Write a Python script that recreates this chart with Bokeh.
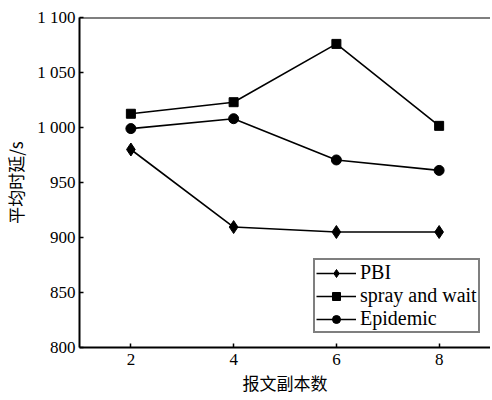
from bokeh.plotting import figure
from bokeh.models import FixedTicker, Legend, LegendItem, Span
from bokeh.embed import file_html
from bokeh.resources import INLINE

copies = [2, 4, 6, 8]
pbi = [980, 909.5, 905, 905]
spray_wait = [1012.5, 1023, 1076, 1001.5]
epidemic = [999, 1008, 970.5, 961]

x_ticks = [2, 4, 6, 8]
y_ticks = [800, 850, 900, 950, 1000, 1050, 1100]
y_tick_labels = ["800", "850", "900", "950", "1 000", "1 050", "1 100"]

SERIF = "Liberation Serif"
CJK = "Noto Sans CJK SC"

p = figure(frame_width=411, frame_height=330, x_range=(1, 9), y_range=(800, 1100),
           output_backend="svg", toolbar_location=None,
           min_border_left=73, min_border_right=0, min_border_top=17, min_border_bottom=45)
p.grid.visible = False
p.background_fill_color = "white"
p.border_fill_color = "white"
p.outline_line_color = None

p.add_layout(Span(location=1100, dimension="width", line_color="black", line_width=2))

for ax in (p.xaxis[0], p.yaxis[0]):
    ax.axis_line_width = 2
    ax.axis_line_color = "black"
    ax.major_tick_in = 4
    ax.major_tick_out = 0
    ax.major_tick_line_width = 1.5
    ax.minor_tick_line_color = None
    ax.major_label_text_font = SERIF
    ax.major_label_text_font_size = "17px"
    ax.major_label_text_color = "black"
    ax.axis_label_text_font = CJK
    ax.axis_label_text_font_size = "17px"
    ax.axis_label_text_font_style = "normal"
    ax.axis_label_text_color = "black"

p.xaxis.ticker = FixedTicker(ticks=x_ticks)
p.yaxis.ticker = FixedTicker(ticks=y_ticks)
p.yaxis.major_label_overrides = {t: l for t, l in zip(y_ticks, y_tick_labels)}
p.xaxis.axis_label = "报文副本数"
p.yaxis.axis_label = "平均时延/s"
p.xaxis.major_label_standoff = 6
p.xaxis.axis_label_standoff = 2
p.yaxis.major_label_standoff = 4
p.yaxis.axis_label_standoff = 6

items = []
specs = [("PBI", pbi, "diamond", 13), ("spray and wait", spray_wait, "square", 9), ("Epidemic", epidemic, "circle", 10)]
for name, ys, marker, size in specs:
    l = p.line(copies, ys, line_color="black", line_width=1.6)
    s = p.scatter(copies, ys, marker=marker, size=size, fill_color="black", line_color="black")
    items.append(LegendItem(label=name, renderers=[l, s]))

legend = Legend(items=items, location=(234, 14))
legend.label_text_font = SERIF
legend.label_text_font_size = "20px"
legend.label_text_color = "black"
legend.border_line_color = "black"
legend.border_line_width = 2
legend.background_fill_color = "white"
legend.background_fill_alpha = 1
legend.glyph_width = 40
legend.glyph_height = 20
legend.label_height = 20
legend.label_standoff = 4
legend.spacing = 0
legend.padding = 1
legend.margin = 0
p.add_layout(legend, "center")

open("out.html", "w").write(file_html(p, INLINE))
